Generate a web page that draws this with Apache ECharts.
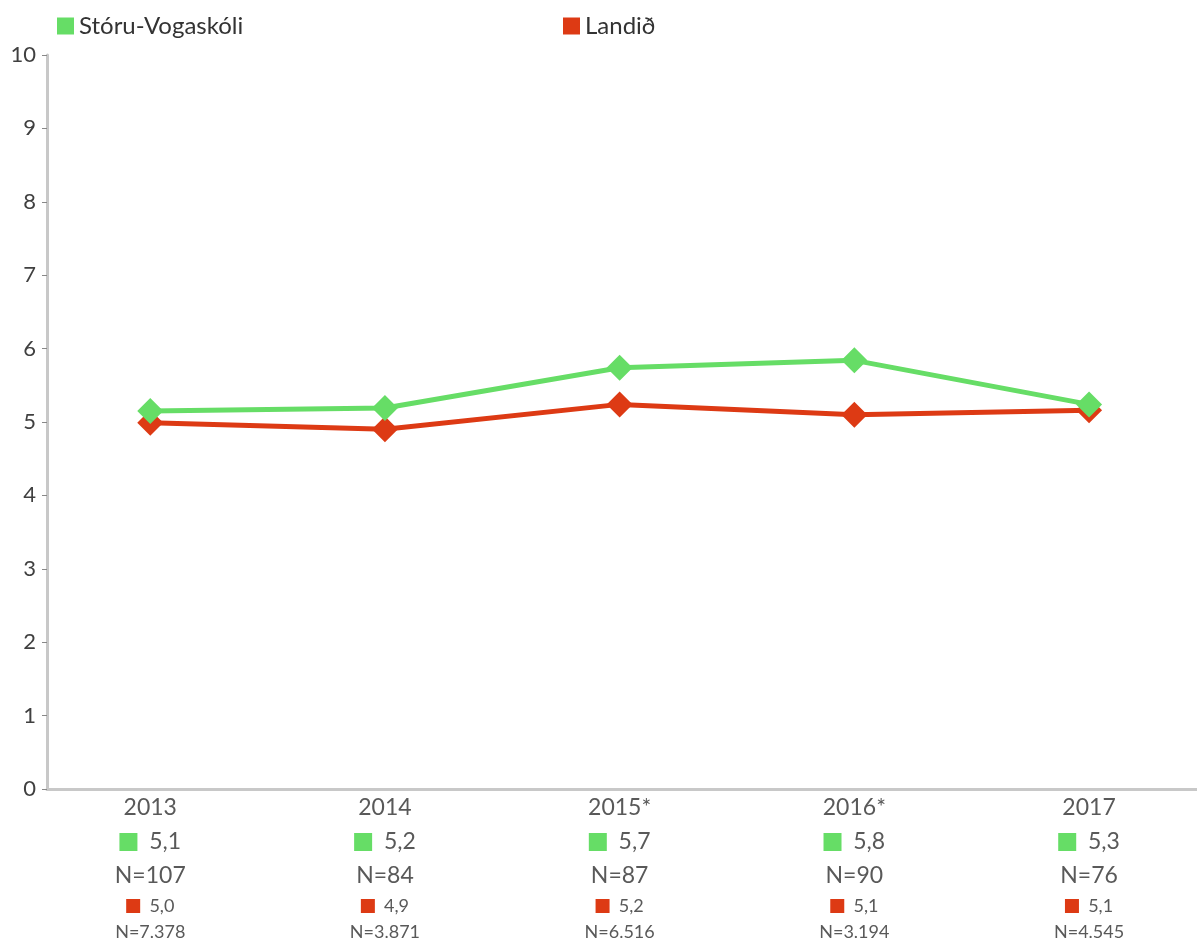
<!DOCTYPE html>
<html>
<head>
<meta charset="utf-8">
<script src="https://cdn.jsdelivr.net/npm/echarts@6/dist/echarts.min.js"></script>
<style>
  html, body { margin: 0; padding: 0; background: #fff; }
  #chart { width: 1197px; height: 942px; }
</style>
</head>
<body>
<div id="chart"></div>
<script>
// data
const years = ["2013", "2014", "2015*", "2016*", "2017"];
const schoolName = "Stóru-Vogaskóli";
const countryName = "Landið";
const schoolValues = [5.15, 5.19, 5.74, 5.84, 5.24];
const countryValues = [4.99, 4.9, 5.24, 5.1, 5.16];
const schoolLabels = ["5,1", "5,2", "5,7", "5,8", "5,3"];
const schoolN = ["107", "84", "87", "90", "76"];
const countryLabels = ["5,0", "4,9", "5,2", "5,1", "5,1"];
const countryN = ["7.378", "3.871", "6.516", "3.194", "4.545"];

const GREEN = "#66dd66";
const RED = "#dd3a14";
const TEXT = "#595959";
const FONT = "Lato, 'Open Sans', sans-serif";

const chart = echarts.init(document.getElementById("chart"));

const idx = years.map((_, i) => i);

const option = {
  animation: false,
  textStyle: { fontFamily: FONT },
  legend: [
    {
      data: [schoolName],
      left: 52, top: 9,
      icon: "rect", itemWidth: 17, itemHeight: 17, itemGap: 10,
      textStyle: { fontSize: 24, color: "#333", fontFamily: FONT }
    },
    {
      data: [countryName],
      left: 558, top: 9,
      icon: "rect", itemWidth: 17, itemHeight: 17,
      textStyle: { fontSize: 24, color: "#333", fontFamily: FONT }
    }
  ],
  grid: { left: 47, right: 0, top: 55, bottom: 153, containLabel: false },
  xAxis: {
    type: "value",
    min: -0.44,
    max: 4.46,
    splitLine: { show: false },
    axisLine: { show: true, onZero: false, lineStyle: { color: "#c8c8c8", width: 3 } },
    axisTick: { show: false },
    axisLabel: {
      customValues: idx,
      margin: 6,
      color: TEXT,
      fontFamily: FONT,
      formatter: function (v) {
        const i = Math.round(v);
        return "{yr|" + years[i] + "}\n" +
          "{gs|}{gv|  " + schoolLabels[i] + "}\n" +
          "{gn|N=" + schoolN[i] + "}\n" +
          "{rs|}{rv|  " + countryLabels[i] + "}\n" +
          "{rn|N=" + countryN[i] + "}";
      },
      rich: {
        yr: { fontSize: 23, lineHeight: 26, color: TEXT, fontFamily: FONT },
        gs: { width: 18, height: 18, backgroundColor: GREEN, lineHeight: 42 },
        gv: { fontSize: 23, lineHeight: 42, color: TEXT, fontFamily: FONT },
        gn: { fontSize: 23, lineHeight: 26, color: TEXT, fontFamily: FONT },
        rs: { width: 14, height: 14, backgroundColor: RED, lineHeight: 34 },
        rv: { fontSize: 18, lineHeight: 34, color: TEXT, fontFamily: FONT },
        rn: { fontSize: 18, lineHeight: 18, color: TEXT, fontFamily: FONT }
      }
    }
  },
  yAxis: {
    type: "value",
    min: 0,
    max: 10,
    interval: 1,
    splitLine: { show: false },
    axisLine: { show: true, onZero: false, lineStyle: { color: "#c8c8c8", width: 3 } },
    axisTick: { show: true, length: 5, lineStyle: { color: "#888", width: 1 } },
    axisLabel: { fontSize: 22, color: "#404040", margin: 11, fontFamily: FONT }
  },
  series: [
    {
      name: countryName,
      type: "line",
      data: idx.map(i => [i, countryValues[i]]),
      symbol: "diamond",
      symbolSize: 26,
      color: RED,
      lineStyle: { width: 5, color: RED },
      itemStyle: { color: RED },
      z: 2
    },
    {
      name: schoolName,
      type: "line",
      data: idx.map(i => [i, schoolValues[i]]),
      symbol: "diamond",
      symbolSize: 26,
      color: GREEN,
      lineStyle: { width: 5, color: GREEN },
      itemStyle: { color: GREEN },
      z: 3
    }
  ]
};

chart.setOption(option);
</script>
</body>
</html>
